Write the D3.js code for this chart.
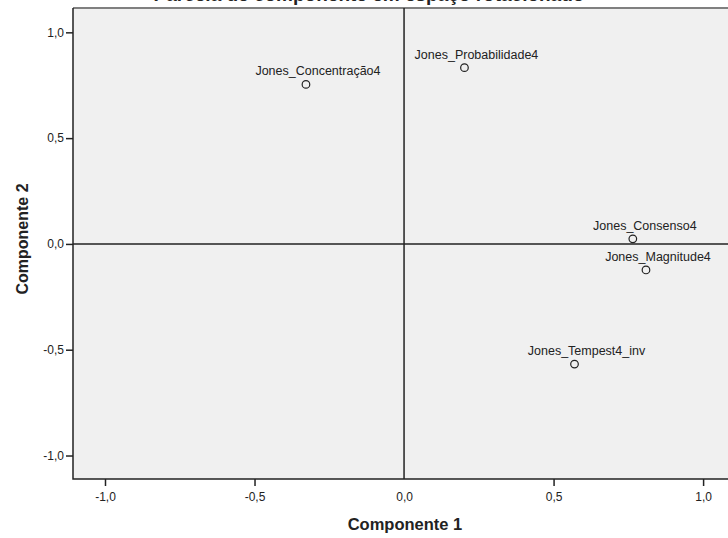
<!DOCTYPE html>
<html>
<head>
<meta charset="utf-8">
<script src="https://cdn.jsdelivr.net/npm/d3@7"></script>
<style>
  body { margin: 0; background: #fff; }
  text { font-family: Arial, "Liberation Sans", sans-serif; fill: #222; }
</style>
</head>
<body>
<svg width="728" height="538"></svg>
<script>
// component loadings
var names = ["Jones_Concentração4", "Jones_Probabilidade4", "Jones_Consenso4", "Jones_Magnitude4", "Jones_Tempest4_inv"];
var comp1 = [-0.328, 0.202, 0.765, 0.809, 0.570];
var comp2 = [0.754, 0.833, 0.024, -0.123, -0.568];
var ticks = [-1.0, -0.5, 0.0, 0.5, 1.0];

var svg = d3.select("svg");

// note: "top" is a reserved window property, so use other names
var plotLeft = 73, plotTop = 8, plotBottom = 479, plotRight = 733;

var x = d3.scaleLinear()
    .domain([-1.107, 1.1])
    .range([plotLeft, plotRight]);

var y = d3.scaleLinear()
    .domain([-1.111, 1.115])
    .range([plotBottom, plotTop]);

var fmt = function(d) { return d3.format(".1f")(d).replace(".", ",").replace("−", "-"); };

// title, cut off at the top edge
svg.append("text")
    .attr("x", 369)
    .attr("y", 1)
    .attr("text-anchor", "middle")
    .style("font-size", "19px")
    .style("font-weight", "bold")
    .text("Parcela de componente em espaço rotacionado");

// plot background
svg.append("rect")
    .attr("x", plotLeft)
    .attr("y", plotTop)
    .attr("width", plotRight - plotLeft)
    .attr("height", plotBottom - plotTop)
    .style("fill", "#f0f0f0");

// top border
svg.append("line")
    .attr("x1", plotLeft).attr("x2", plotRight)
    .attr("y1", plotTop).attr("y2", plotTop)
    .style("stroke", "#808080")
    .style("stroke-width", 2);

// zero reference lines
svg.append("line")
    .attr("x1", x(0)).attr("x2", x(0))
    .attr("y1", plotTop).attr("y2", plotBottom)
    .style("stroke", "#222")
    .style("stroke-width", 1.5);

svg.append("line")
    .attr("x1", plotLeft).attr("x2", plotRight)
    .attr("y1", y(0)).attr("y2", y(0))
    .style("stroke", "#222")
    .style("stroke-width", 1.5);

// axes
var yAxis = svg.append("g")
    .attr("transform", "translate(" + plotLeft + ",0)")
    .call(d3.axisLeft(y).tickValues(ticks).tickFormat(fmt).tickSize(7).tickPadding(2));

var xAxis = svg.append("g")
    .attr("transform", "translate(0," + plotBottom + ")")
    .call(d3.axisBottom(x).tickValues(ticks).tickFormat(fmt).tickSize(7).tickPadding(6));

[yAxis, xAxis].forEach(function(g) {
    g.select(".domain").remove();
    g.selectAll(".tick line")
        .style("stroke", "#222")
        .style("stroke-width", 1.5);
    g.selectAll(".tick text")
        .style("font-size", "12px")
        .style("font-family", "Arial, 'Liberation Sans', sans-serif")
        .style("fill", "#222");
});

// no tick mark under the vertical zero line
xAxis.selectAll(".tick line")
    .filter(function(d) { return d === 0; })
    .remove();

// left and bottom frame
svg.append("path")
    .attr("d", "M" + plotLeft + "," + plotTop + "V" + plotBottom + "H" + plotRight)
    .style("fill", "none")
    .style("stroke", "#222")
    .style("stroke-width", 1.5);

// axis titles
svg.append("text")
    .attr("x", 405)
    .attr("y", 530)
    .attr("text-anchor", "middle")
    .style("font-size", "16.5px")
    .style("font-weight", "bold")
    .text("Componente 1");

svg.append("text")
    .attr("transform", "translate(28,239) rotate(-90)")
    .attr("text-anchor", "middle")
    .style("font-size", "16px")
    .style("font-weight", "bold")
    .text("Componente 2");

// points and labels
var pts = svg.append("g")
    .selectAll("g")
    .data(names)
    .enter().append("g");

pts.append("circle")
    .attr("cx", function(d, i) { return x(comp1[i]); })
    .attr("cy", function(d, i) { return y(comp2[i]); })
    .attr("r", 3.8)
    .style("fill", "none")
    .style("stroke", "#222")
    .style("stroke-width", 1.2);

pts.append("text")
    .attr("x", function(d, i) { return x(comp1[i]) + 12; })
    .attr("y", function(d, i) { return y(comp2[i]) - 9; })
    .attr("text-anchor", "middle")
    .style("font-size", "12.5px")
    .text(function(d) { return d; });
</script>
</body>
</html>
